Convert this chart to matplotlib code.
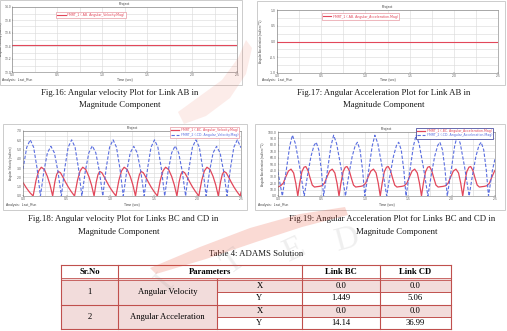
import matplotlib
matplotlib.use('Agg')
import matplotlib.pyplot as plt
from matplotlib.patches import Rectangle, Polygon
from matplotlib.ticker import MultipleLocator, FormatStrFormatter

W, H = 507, 331

# ---------------- data ----------------
# Fig.16 / Fig.17 : link AB (constant speed crank)
t_ab = [0.0, 2.5]
w_ab = [13.42, 13.42]
acc_ab = [0.0, 0.0]

# Fig.18 : angular velocity magnitude, link BC (red) and link CD (blue)
t_bc_vel = [0.0, 0.04, 0.08, 0.116,
            0.15, 0.18, 0.21, 0.245, 0.28, 0.31, 0.34, 0.365, 0.385, 0.405, 0.43, 0.46, 0.49, 0.52, 0.555, 0.591,
            0.625, 0.655, 0.685, 0.72, 0.755, 0.785, 0.815, 0.84, 0.86, 0.88, 0.905, 0.935, 0.965, 0.995, 1.03, 1.066,
            1.10, 1.13, 1.16, 1.195, 1.23, 1.26, 1.29, 1.315, 1.335, 1.355, 1.38, 1.41, 1.44, 1.47, 1.505, 1.541,
            1.575, 1.605, 1.635, 1.67, 1.705, 1.735, 1.765, 1.79, 1.81, 1.83, 1.855, 1.885, 1.915, 1.945, 1.98, 2.016,
            2.05, 2.08, 2.11, 2.145, 2.18, 2.21, 2.24, 2.265, 2.285, 2.305, 2.33, 2.36, 2.39, 2.42, 2.455, 2.491,
            2.5]
w_bc = [1.45, 0.85, 0.35, 0.0,
        1.7, 2.7, 3.1, 2.85, 2.1, 1.2, 0.0, 1.5, 2.3, 2.65, 2.5, 2.0, 1.45, 0.95, 0.45, 0.0,
        1.7, 2.7, 3.1, 2.85, 2.1, 1.2, 0.0, 1.5, 2.3, 2.65, 2.5, 2.0, 1.45, 0.95, 0.45, 0.0,
        1.7, 2.7, 3.1, 2.85, 2.1, 1.2, 0.0, 1.5, 2.3, 2.65, 2.5, 2.0, 1.45, 0.95, 0.45, 0.0,
        1.7, 2.7, 3.1, 2.85, 2.1, 1.2, 0.0, 1.5, 2.3, 2.65, 2.5, 2.0, 1.45, 0.95, 0.45, 0.0,
        1.7, 2.7, 3.1, 2.85, 2.1, 1.2, 0.0, 1.5, 2.3, 2.65, 2.5, 2.0, 1.45, 0.95, 0.45, 0.0,
        0.4]

t_cd_vel = [0.0, 0.043, 0.083, 0.122, 0.161, 0.20,
            0.24, 0.28, 0.32, 0.36, 0.40, 0.44,
            0.479, 0.518, 0.558, 0.597, 0.636, 0.675,
            0.715, 0.755, 0.795, 0.835, 0.875, 0.915,
            0.954, 0.993, 1.033, 1.072, 1.111, 1.15,
            1.19, 1.23, 1.27, 1.31, 1.35, 1.39,
            1.429, 1.468, 1.508, 1.547, 1.586, 1.625,
            1.665, 1.705, 1.745, 1.785, 1.825, 1.865,
            1.904, 1.943, 1.983, 2.022, 2.061, 2.10,
            2.14, 2.18, 2.22, 2.26, 2.30, 2.34,
            2.379, 2.418, 2.458, 2.497, 2.5]
w_cd = [2.9, 5.25, 6.05, 5.25, 3.0, 0.0,
        2.7, 4.65, 5.35, 4.65, 2.7, 0.0,
        3.0, 5.25, 6.05, 5.25, 3.0, 0.0,
        2.7, 4.65, 5.4, 4.65, 2.7, 0.0,
        3.0, 5.25, 6.05, 5.25, 3.0, 0.0,
        2.7, 4.65, 5.35, 4.65, 2.7, 0.0,
        3.0, 5.25, 6.05, 5.25, 3.0, 0.0,
        2.7, 4.65, 5.4, 4.65, 2.7, 0.0,
        3.0, 5.25, 6.05, 5.25, 3.0, 0.0,
        2.7, 4.65, 5.35, 4.65, 2.7, 0.0,
        3.0, 5.25, 6.05, 5.25, 5.2]

# Fig.19 : angular acceleration magnitude, link BC (red) and link CD (blue)
t_bc_acc = [0.0, 0.03, 0.06, 0.09, 0.12, 0.15, 0.18, 0.205, 0.228, 0.25, 0.275, 0.30, 0.32, 0.345, 0.37, 0.395, 0.42, 0.445,
            0.475, 0.505, 0.535, 0.565, 0.595, 0.625, 0.655, 0.68, 0.703, 0.725, 0.75, 0.775, 0.795, 0.82, 0.845, 0.87, 0.895, 0.92,
            0.95, 0.98, 1.01, 1.04, 1.07, 1.10, 1.13, 1.155, 1.178, 1.20, 1.225, 1.25, 1.27, 1.295, 1.32, 1.345, 1.37, 1.395,
            1.425, 1.455, 1.485, 1.515, 1.545, 1.575, 1.605, 1.63, 1.653, 1.675, 1.70, 1.725, 1.745, 1.77, 1.795, 1.82, 1.845, 1.87,
            1.90, 1.93, 1.96, 1.99, 2.02, 2.05, 2.08, 2.105, 2.128, 2.15, 2.175, 2.20, 2.22, 2.245, 2.27, 2.295, 2.32, 2.345,
            2.375, 2.405, 2.435, 2.465, 2.495, 2.5]
a_bc = [14, 16, 20, 30, 39, 42, 36, 20, 0, 20, 38, 45, 46, 40, 28, 17, 14, 14.5,
        15, 16, 20, 30, 39, 42, 36, 20, 0, 20, 38, 45, 46, 40, 28, 17, 14, 14.5,
        15, 16, 20, 30, 39, 42, 36, 20, 0, 20, 38, 45, 46, 40, 28, 17, 14, 14.5,
        15, 16, 20, 30, 39, 42, 36, 20, 0, 20, 38, 45, 46, 40, 28, 17, 14, 14.5,
        15, 16, 20, 30, 39, 42, 36, 20, 0, 20, 38, 45, 46, 40, 28, 17, 14, 14.5,
        15, 16, 20, 30, 39, 40]

t_cd_acc = [0.0, 0.025, 0.05,
            0.095, 0.135, 0.166, 0.20, 0.25, 0.302, 0.34, 0.38, 0.415, 0.44, 0.47, 0.50, 0.525,
            0.57, 0.61, 0.641, 0.675, 0.725, 0.777, 0.815, 0.855, 0.89, 0.915, 0.945, 0.975, 1.00,
            1.045, 1.085, 1.116, 1.15, 1.20, 1.252, 1.29, 1.33, 1.365, 1.39, 1.42, 1.45, 1.475,
            1.52, 1.56, 1.591, 1.625, 1.675, 1.727, 1.765, 1.805, 1.84, 1.865, 1.895, 1.925, 1.95,
            1.995, 2.035, 2.066, 2.10, 2.15, 2.202, 2.24, 2.28, 2.315, 2.34, 2.37, 2.40, 2.425,
            2.47, 2.5]
a_cd = [38, 18, 0,
        40, 78, 95, 82, 45, 0, 32, 62, 79, 84, 72, 40, 0,
        40, 78, 95, 82, 45, 0, 32, 62, 79, 84, 72, 40, 0,
        40, 78, 95, 82, 45, 0, 32, 62, 79, 84, 72, 40, 0,
        40, 78, 95, 82, 45, 0, 32, 62, 79, 84, 72, 40, 0,
        40, 78, 95, 82, 45, 0, 32, 62, 79, 84, 72, 40, 0,
        40, 58]

# Table 4
table_header = ['Sr.No', 'Parameters', 'Link BC', 'Link CD']
sr_no = ['1', '2']
parameters = ['Angular Velocity', 'Angular Acceleration']
components = ['X', 'Y']
link_bc = [['0.0', '1.449'], ['0.0', '14.14']]
link_cd = [['0.0', '5.06'], ['0.0', '36.99']]

RED = '#e2475a'
BLUE = '#5a6ee0'
SERIF = 'Liberation Serif'
SANS = 'Liberation Sans'


def box(x0, y0, x1, y1):
    return [x0 / W, 1 - y1 / H, (x1 - x0) / W, (y1 - y0) / H]


fig = plt.figure(figsize=(W / 100, H / 100), dpi=100)
page = fig.add_axes([0, 0, 1, 1], zorder=0)
page.set_xlim(0, W)
page.set_ylim(H, 0)
page.axis('off')

# plot windows
for x0, y0, x1, y1 in [(0, 0, 242, 85), (257, 1, 505, 85), (3, 124, 247, 210), (255, 124, 505, 210)]:
    page.add_patch(Rectangle((x0, y0), x1 - x0, y1 - y0, fc='white', ec='#cccccc', lw=0.7))


def adams_axes(rect, ylim, ystep, yfmt, ylabel, label_x):
    ax = fig.add_axes(box(*rect), zorder=2)
    ax.set_xlim(0, 2.5)
    ax.set_ylim(*ylim)
    ax.xaxis.set_major_locator(MultipleLocator(0.5))
    ax.xaxis.set_minor_locator(MultipleLocator(0.25))
    ax.yaxis.set_major_locator(MultipleLocator(ystep))
    ax.yaxis.set_minor_locator(MultipleLocator(ystep / 2))
    ax.xaxis.set_major_formatter(FormatStrFormatter('%.1f'))
    ax.yaxis.set_major_formatter(FormatStrFormatter(yfmt))
    ax.grid(which='both', color='#d9d9d9', lw=0.4)
    ax.set_axisbelow(True)
    ax.tick_params(labelsize=2.2, length=1, width=0.3, pad=0.7, colors='#555555', direction='in')
    ax.tick_params(which='minor', length=0)
    for s in ax.spines.values():
        s.set_linewidth(0.4)
        s.set_color('#777777')
    ax.set_ylabel(ylabel, fontsize=2.1, family=SANS, color='#444444')
    # label position given in page pixels
    ax.yaxis.set_label_coords((label_x - rect[0]) / (rect[2] - rect[0]), 0.5)
    ax.set_title('Project', fontsize=2.6, pad=1.2, family=SANS, color='#333333')
    return ax


def small_legend(ax, anchor, loc, edge):
    leg = ax.legend(loc=loc, bbox_to_anchor=anchor, fontsize=2.3, handlelength=2.6,
                    borderpad=0.35, labelspacing=0.25, handletextpad=0.5,
                    fancybox=False, framealpha=1, edgecolor=edge)
    leg.get_frame().set_linewidth(0.5)
    for txt, line in zip(leg.get_texts(), leg.get_lines()):
        txt.set_color(line.get_color())
    return leg


# Fig.16
ax1 = adams_axes((12, 7, 237, 72), (13.0, 14.0), 0.2, '%.1f', 'Angular Velocity (rad/sec)', 3.5)
ax1.plot(t_ab, w_ab, color=RED, lw=0.8, label='FMRT_1 (.AB. Angular_Velocity.Mag)')
small_legend(ax1, (0.19, 0.955), 'upper left', '#e79aa3')

# Fig.17
ax2 = adams_axes((277, 10, 498, 73), (-1.0, 1.0), 0.5, '%.1f', 'Angular Acceleration (rad/sec**2)', 263)
ax2.plot(t_ab, acc_ab, color=RED, lw=0.8, label='FMRT_1 (.AB. Angular_Acceleration.Mag)')
small_legend(ax2, (0.195, 0.97), 'upper left', '#e79aa3')

# Fig.18
ax3 = adams_axes((23, 131, 241, 196), (0.0, 7.0), 1.0, '%.1f', 'Angular Velocity (rad/sec)', 13)
ax3.plot(t_bc_vel, w_bc, color=RED, lw=0.9, label='FMRT_1 (.BC. Angular_Velocity.Mag)')
ax3.plot(t_cd_vel, w_cd, color=BLUE, lw=0.8, ls=(0, (3, 1.6)), label='FMRT_2 (.CD. Angular_Velocity.Mag)')
small_legend(ax3, (1.0, 1.085), 'upper right', '#e79aa3')

# Fig.19
ax4 = adams_axes((278, 132, 495, 196), (0.0, 100.0), 10.0, '%.1f', 'Angular Acceleration (rad/sec**2)', 265)
ax4.yaxis.set_minor_locator(MultipleLocator(10.0))
ax4.plot(t_bc_acc, a_bc, color=RED, lw=0.9, label='FMRT_1 (.BC. Angular_Acceleration.Mag)')
ax4.plot(t_cd_acc, a_cd, color=BLUE, lw=0.8, ls=(0, (3, 1.6)), label='FMRT_2 (.CD. Angular_Acceleration.Mag)')
small_legend(ax4, (1.0, 1.095), 'upper right', '#2b2f8f')

# footer texts of each plot window
for ax, xa, yb in [(ax1, 2, 80), (ax2, 262, 80), (ax3, 6, 205), (ax4, 258, 205)]:
    page.text(xa, yb, 'Analysis:  Last_Run', fontsize=2.4, family=SANS, color='#444444', va='center')
    pos = ax.get_position()
    page.text((pos.x0 + pos.width / 2) * W, yb, 'Time (sec)', fontsize=2.4, family=SANS,
              color='#444444', ha='center', va='center')

# captions
captions = [
    (120, 93, 'Fig.16: Angular velocity Plot for Link AB in'),
    (120, 105, 'Magnitude Component'),
    (384, 93, 'Fig.17: Angular Acceleration Plot for Link AB in'),
    (384, 105, 'Magnitude Component'),
    (123, 219, 'Fig.18: Angular velocity Plot for Links BC and CD in'),
    (119, 232, 'Magnitude Component'),
    (392, 219, 'Fig.19: Angular Acceleration Plot for Links BC and CD in'),
    (397, 232, 'Magnitude Component'),
    (256, 254, 'Table 4: ADAMS Solution'),
]
for x, y, s in captions:
    page.text(x, y, s, fontsize=6.3, family=SERIF, color='#1a1a1a', ha='center', va='center')

# table
cols = [61, 118, 217, 302, 380, 451]
rows = [265, 279, 292, 305, 317, 329]
PINK = '#f2dcdb'
EDGE = '#c0504d'
for g in range(2):
    r0, rm, r1 = rows[1 + 2 * g], rows[2 + 2 * g], rows[3 + 2 * g]
    page.add_patch(Rectangle((cols[0], r0), cols[2] - cols[0], r1 - r0, fc=PINK, ec='none'))
    page.add_patch(Rectangle((cols[2], r0), cols[5] - cols[2], rm - r0, fc=PINK, ec='none'))
    page.text((cols[0] + cols[1]) / 2, (r0 + r1) / 2, sr_no[g], fontsize=6.2, family=SERIF, ha='center', va='center')
    page.text((cols[1] + cols[2]) / 2, (r0 + r1) / 2, parameters[g], fontsize=6.2, family=SERIF, ha='center', va='center')
    for k in range(2):
        ya = (rows[1 + 2 * g + k] + rows[2 + 2 * g + k]) / 2
        page.text((cols[2] + cols[3]) / 2, ya, components[k], fontsize=6.2, family=SERIF, ha='center', va='center')
        page.text((cols[3] + cols[4]) / 2, ya, link_bc[g][k], fontsize=6.2, family=SERIF, ha='center', va='center')
        page.text((cols[4] + cols[5]) / 2, ya, link_cd[g][k], fontsize=6.2, family=SERIF, ha='center', va='center')

head_x = [(cols[0] + cols[1]) / 2, (cols[1] + cols[3]) / 2, (cols[3] + cols[4]) / 2, (cols[4] + cols[5]) / 2]
for x, s in zip(head_x, table_header):
    page.text(x, (rows[0] + rows[1]) / 2, s, fontsize=6.2, family=SERIF, weight='bold', ha='center', va='center')

for r in [rows[0], rows[3], rows[5]]:
    page.plot([cols[0], cols[5]], [r, r], color=EDGE, lw=0.8)
page.plot([cols[0], cols[5]], [rows[1] - 0.7, rows[1] - 0.7], color=EDGE, lw=0.6)
page.plot([cols[0], cols[5]], [rows[1] + 0.7, rows[1] + 0.7], color=EDGE, lw=0.6)
for r in [rows[2], rows[4]]:
    page.plot([cols[2], cols[5]], [r, r], color=EDGE, lw=0.7)
for c in [cols[0], cols[1], cols[3], cols[4], cols[5]]:
    page.plot([c, c], [rows[0], rows[5]], color=EDGE, lw=0.8)
page.plot([cols[2], cols[2]], [rows[1], rows[5]], color=EDGE, lw=0.8)

# faint publisher watermark on top of everything
wm = fig.add_axes([0, 0, 1, 1], zorder=10)
wm.set_xlim(0, W)
wm.set_ylim(H, 0)
wm.axis('off')
wm.patch.set_alpha(0)
wm.add_patch(Polygon([(150, 268), (200, 247), (250, 228), (300, 214), (345, 207),
                      (348, 215), (302, 227), (256, 242), (206, 259), (156, 274)],
                     fc='#e8462c', ec='none', alpha=0.2))
wm.add_patch(Polygon([(178, 112), (200, 96), (222, 80), (238, 58), (246, 40),
                      (252, 48), (246, 74), (230, 98), (206, 116), (184, 124)],
                     fc='#e8462c', ec='none', alpha=0.1))
for x, y, s, rot in [(165, 282, 'I', 50), (233, 262, 'T', 35), (294, 250, 'E', 25), (347, 240, 'D', 15)]:
    wm.text(x, y, s, fontsize=24, family=SERIF, color='#8c8c8c', alpha=0.14,
            rotation=rot, ha='center', va='center')

fig.savefig('out.png', dpi=100)
